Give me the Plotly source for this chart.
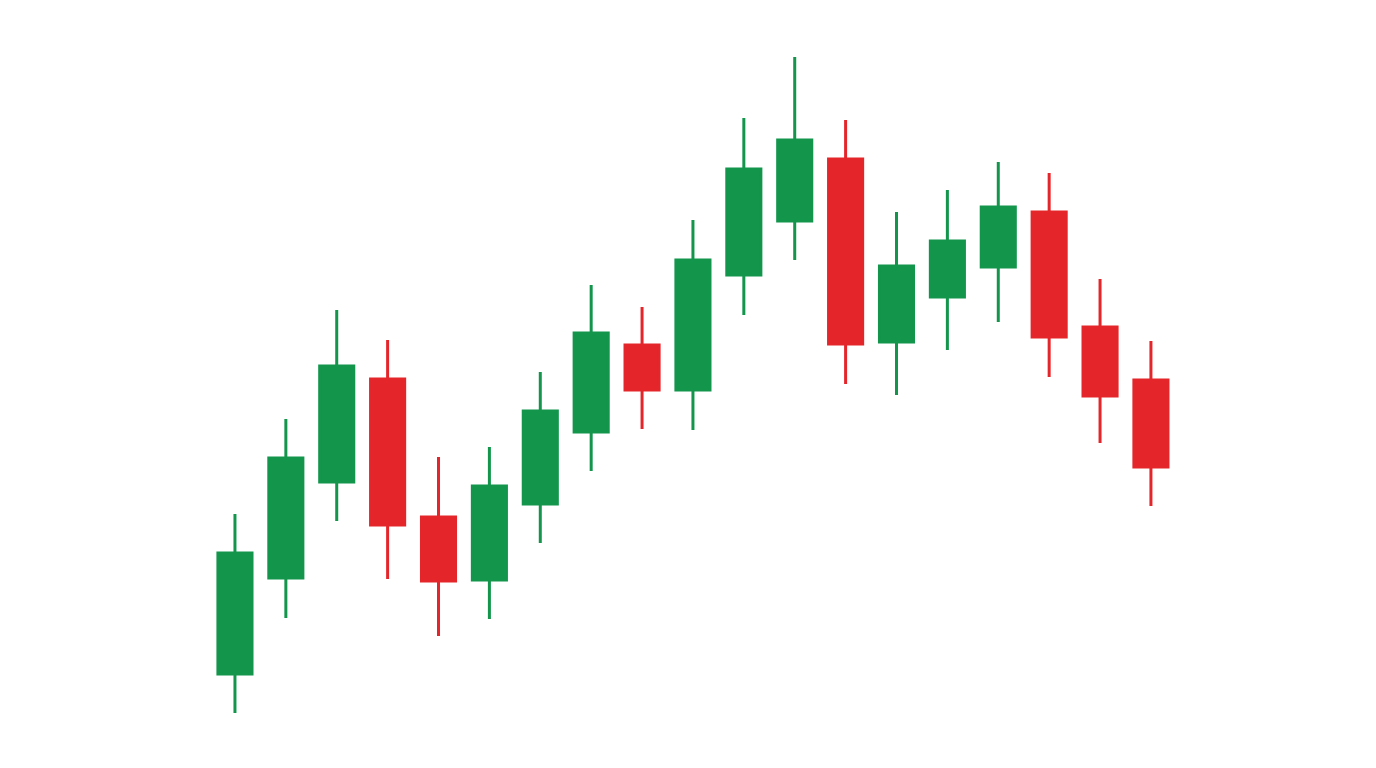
import plotly.graph_objects as go

idx = list(range(19))
open_ = [94, 190, 286, 389, 251, 188, 264, 336, 423, 378, 493, 547, 609, 426, 471, 501, 556, 441, 388]
high = [254, 349, 458, 428, 311, 321, 396, 483, 461, 548, 650, 711, 648, 556, 578, 606, 595, 489, 427]
low = [55, 150, 247, 189, 132, 149, 225, 297, 339, 338, 453, 508, 384, 373, 418, 446, 391, 325, 262]
close = [215, 310, 402, 243, 187, 282, 357, 435, 378, 508, 599, 628, 424, 502, 527, 561, 431, 372, 301]

GREEN = "#13964C"
RED = "#E4262B"

fig = go.Figure(go.Candlestick(
    x=idx, open=open_, high=high, low=low, close=close,
    increasing=dict(line=dict(color=GREEN, width=3), fillcolor=GREEN),
    decreasing=dict(line=dict(color=RED, width=3), fillcolor=RED),
    whiskerwidth=0,
    hoverinfo="skip",
))

fig.update_layout(
    width=1376, height=768,
    margin=dict(l=0, r=0, t=0, b=0),
    paper_bgcolor="white", plot_bgcolor="white",
    showlegend=False,
    boxgap=0.33, boxgroupgap=0,
    xaxis=dict(visible=False, range=[-4.46, 22.58], rangeslider=dict(visible=False)),
    yaxis=dict(visible=False, range=[-8, 760]),
)

fig.write_html("out.html")
